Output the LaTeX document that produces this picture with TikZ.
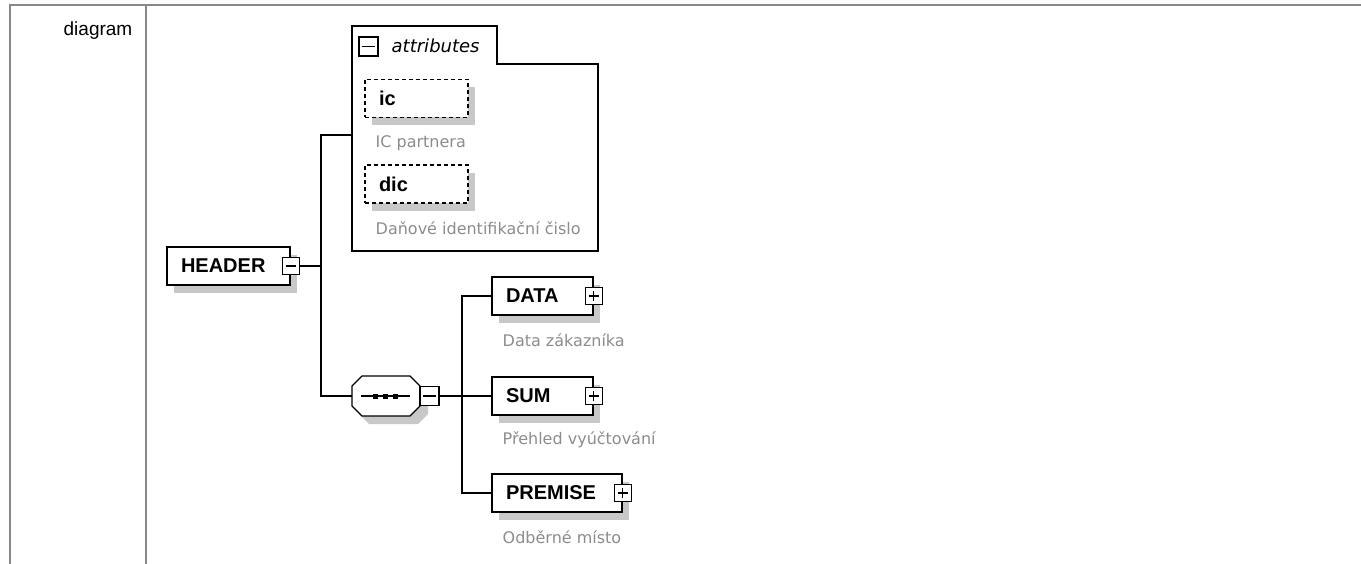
\documentclass[tikz,border=0pt]{standalone}
\usepackage{fontspec}
\setmainfont{Liberation Sans}
\newfontfamily\dvs{DejaVu Sans}
\usetikzlibrary{shadows}
\definecolor{shadowc}{RGB}{200,200,200}
\definecolor{descc}{RGB}{140,140,140}
\definecolor{gridc}{RGB}{136,136,136}
\begin{document}
\begin{tikzpicture}[x=1pt,y=-1pt,line width=1.4pt,
  grid/.style={draw=gridc,line width=2pt},
  shad/.style={drop shadow={shadow xshift=7pt,shadow yshift=-8pt,fill=shadowc,opacity=1}},
  elem/.style={draw,fill=white,shad,minimum height=38,inner xsep=14,inner ysep=0,align=left,
     font=\fontsize{20}{22}\selectfont\bfseries},
  attr/.style={elem,dash pattern=on 4pt off 3pt},
  btn/.style={draw,fill=white,minimum size=17,inner sep=0},
  desc/.style={anchor=west,inner sep=0,text=descc,font=\dvs\fontsize{16}{18}\selectfont},
]
\useasboundingbox (0,0) rectangle (1361,564);
% table grid
\draw[grid] (10,564) -- (10,5) -- (1361,5);
\draw[grid] (146,5) -- (146,564);
\node[anchor=base east,inner sep=0,font=\fontsize{19}{21}\selectfont] (lbl) at (133,36) {diagram};

% attributes container
\draw (352,26) -- (497,26) -- (497,64) -- (598,64) -- (598,251) -- (352,251) -- cycle;
\node[btn,minimum size=19] (abtn) at (368.5,46.5) {};
\draw ([xshift=4]abtn.west) -- ([xshift=-4]abtn.east);
\node[anchor=west,inner sep=0,font=\dvs\itshape\fontsize{18}{20}\selectfont] (atitle) at (391,46) {attributes};
\coordinate (attrL) at (352,135);

\node[attr,text width=75] (ic) at (416.5,98.5) {ic};
\node[desc] (icd) at (375,143) {IC partnera};
\node[attr,text width=75] (dic) at (416.5,184) {dic};
\node[desc] (dicd) at (375,228) {Daňové identifikační čislo};

% HEADER
\node[elem,text width=95] (hdr) at (228.5,266) {HEADER};
\node[btn] (hbtn) at (hdr.east) {};
\draw ([xshift=4]hbtn.west) -- ([xshift=-4]hbtn.east);

% sequence compositor
\fill[shadowc] (359,384) -- (369,384) -- (418,384) -- (428,394) -- (428,414) -- (418,424) -- (369,424) -- (359,414) -- cycle;
\draw[fill=white] (362,376) -- (410,376) -- (420,386) -- (420,406) -- (410,416) -- (362,416) -- (352,406) -- (352,386) -- cycle;
\coordinate (seqW) at (352,396);
\draw (361,396) -- (410,396);
\foreach \cx in {375.5,385.5,395} \fill (\cx-2.5,393.5) rectangle (\cx+2.5,398.5);
\node[btn,minimum size=19] (sbtn) at (429.5,396) {};
\draw ([xshift=4]sbtn.west) -- ([xshift=-4]sbtn.east);

% children
\node[elem,text width=73] (data) at (542.5,296) {DATA};
\node[btn] (dbtn) at (data.east) {};
\draw ([xshift=4]dbtn.west) -- ([xshift=-4]dbtn.east) ([yshift=4]dbtn.south) -- ([yshift=-4]dbtn.north);
\node[desc] (datad) at (502,340) {Data zákazníka};

\node[elem,text width=73] (sum) at (542.5,396) {SUM};
\node[btn] (subtn) at (sum.east) {};
\draw ([xshift=4]subtn.west) -- ([xshift=-4]subtn.east) ([yshift=4]subtn.south) -- ([yshift=-4]subtn.north);
\node[desc] (sumd) at (502,440) {Přehled vyúčtování};

\node[elem,text width=102] (prem) at (557,493) {PREMISE};
\node[btn] (pbtn) at (prem.east) {};
\draw ([xshift=4]pbtn.west) -- ([xshift=-4]pbtn.east) ([yshift=4]pbtn.south) -- ([yshift=-4]pbtn.north);
\node[desc] (premd) at (502,537) {Odběrné místo};

% connectors
\coordinate (t1) at (321,0);
\coordinate (t2) at (462,0);
\draw (hbtn.east) -- (hbtn.east -| t1);
\draw (attrL) -- (attrL -| t1) |- (seqW);
\draw (sbtn.east) -- (sum.west);
\draw (data.west) -- (data.west -| t2) |- (prem.west);
\end{tikzpicture}
\end{document}
